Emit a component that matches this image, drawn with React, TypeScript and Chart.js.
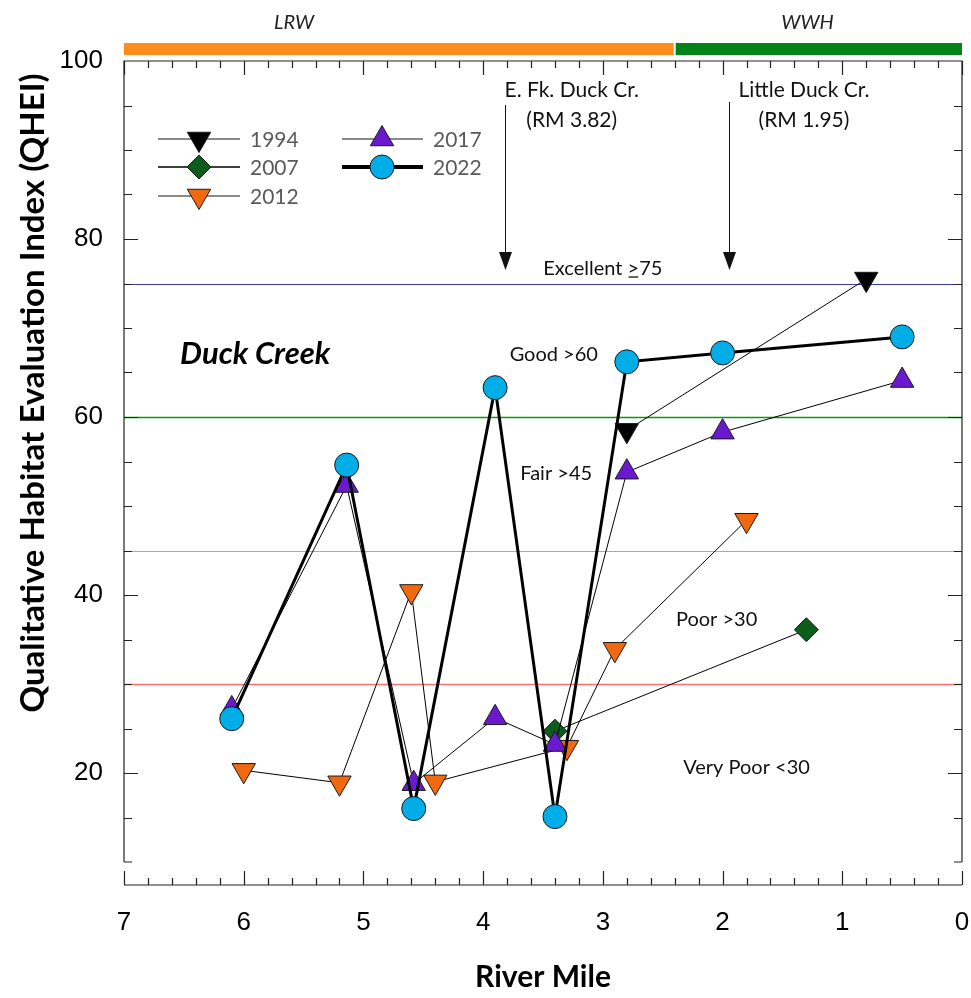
import React, { useEffect, useRef } from 'react';
import { Chart, registerables } from 'chart.js';
import { drawPoint } from 'chart.js/helpers';

Chart.register(...registerables);

// QHEI survey results for Duck Creek by river mile
const riverMile1994 = [2.8, 0.8];
const qhei1994 = [58.5, 75.5];

const riverMile2007 = [3.4, 1.3];
const qhei2007 = [24.7, 36.1];

const riverMile2012 = [6.0, 5.2, 4.6, 4.4, 3.3, 2.9, 1.8];
const qhei2012 = [20.3, 18.9, 40.4, 19.0, 22.9, 33.9, 48.4];

const riverMile2017 = [6.1, 5.14, 4.58, 3.9, 3.4, 2.8, 2.0, 0.5];
const qhei2017 = [27.2, 52.3, 18.8, 26.2, 23.2, 53.8, 58.3, 64.1];

const riverMile2022 = [6.1, 5.14, 4.58, 3.9, 3.4, 2.8, 2.0, 0.5];
const qhei2022 = [26.1, 54.6, 16.0, 63.3, 15.1, 66.2, 67.2, 69.0];

const surveyYears = ['1994', '2007', '2012', '2017', '2022'];

// Narrative rating thresholds
const bandThresholds = [75, 60, 45, 30];
const bandLabels = ['Excellent ', 'Good >60', 'Fair >45', 'Poor >30', 'Very Poor <30'];

// Tributary confluences
const tributaryNames = ['E. Fk. Duck Cr.', 'Little Duck Cr.'];
const tributaryMiles = [3.82, 1.95];

// Aquatic life use designations
const useDesignations = ['LRW', 'WWH'];
const useBreakMile = 2.4;

const FONT = 'Lato, "Open Sans", sans-serif';
const AXIS_FONT = '"Liberation Sans", Arial, sans-serif';

type MarkerStyle = {
  pointStyle: string;
  rotation: number;
  fill: string;
  radius: number;
  lineWidth: number;
  legendLine: string;
  legendWidth: number;
};

const markerStyles: MarkerStyle[] = [
  { pointStyle: 'triangle', rotation: 180, fill: '#000000', radius: 13.5, lineWidth: 1, legendLine: '#8a8a8a', legendWidth: 2 },
  { pointStyle: 'rectRot', rotation: 0, fill: '#0d5c1c', radius: 12, lineWidth: 1, legendLine: '#000000', legendWidth: 1.5 },
  { pointStyle: 'triangle', rotation: 180, fill: '#f0690f', radius: 13.5, lineWidth: 1, legendLine: '#8a8a8a', legendWidth: 2 },
  { pointStyle: 'triangle', rotation: 0, fill: '#6a19cf', radius: 13.5, lineWidth: 1, legendLine: '#8a8a8a', legendWidth: 2 },
  { pointStyle: 'circle', rotation: 0, fill: '#00ade6', radius: 12, lineWidth: 3, legendLine: '#000000', legendWidth: 4 },
];

const seriesMiles = [riverMile1994, riverMile2007, riverMile2012, riverMile2017, riverMile2022];
const seriesQhei = [qhei1994, qhei2007, qhei2012, qhei2017, qhei2022];

const bandLineColors = ['#3c3ca8', '#00a000', '#cfa080', '#ff6f6f'];
const bandLineWidths = [1, 1.4, 1.2, 1.5];

function drawMarker(ctx: CanvasRenderingContext2D, s: MarkerStyle, x: number, y: number) {
  ctx.save();
  ctx.fillStyle = s.fill;
  ctx.strokeStyle = '#1a1a1a';
  ctx.lineWidth = 1;
  drawPoint(ctx, { pointStyle: s.pointStyle as any, rotation: s.rotation, radius: s.radius, borderWidth: 1 }, x, y);
  ctx.restore();
}

const decorations = {
  id: 'decorations',
  beforeDatasetsDraw(chart: any) {
    const { ctx, chartArea: a, scales } = chart;
    const y = scales.y;
    ctx.save();
    bandThresholds.forEach((t, i) => {
      const py = Math.round(y.getPixelForValue(t)) + 0.5;
      ctx.strokeStyle = bandLineColors[i];
      ctx.lineWidth = bandLineWidths[i];
      ctx.beginPath();
      ctx.moveTo(a.left, py);
      ctx.lineTo(a.right, py);
      ctx.stroke();
    });

    // band labels
    ctx.fillStyle = '#111';
    ctx.font = `20px ${FONT}`;
    ctx.textAlign = 'center';
    ctx.textBaseline = 'middle';
    const x = scales.x;
    const bandPos = [
      [3.0, 76.7],
      [3.41, 67.0],
      [3.39, 53.7],
      [2.05, 37.2],
      [1.8, 20.6],
    ];
    bandPos.forEach(([m, v], i) => {
      const px = x.getPixelForValue(m);
      const py = y.getPixelForValue(v);
      if (i === 0) {
        // "Excellent ≥75" with an underlined greater-than sign
        const head = bandLabels[0];
        const sign = '>';
        const tail = '75';
        const w1 = ctx.measureText(head).width;
        const w2 = ctx.measureText(sign).width;
        const w3 = ctx.measureText(tail).width;
        const sx = px - (w1 + w2 + w3) / 2;
        ctx.textAlign = 'left';
        ctx.fillText(head, sx, py);
        ctx.fillText(sign, sx + w1, py);
        ctx.fillText(tail, sx + w1 + w2, py);
        ctx.fillRect(sx + w1 + 1, py + 8, w2 - 2, 1.3);
        ctx.textAlign = 'center';
      } else {
        ctx.fillText(bandLabels[i], px, py);
      }
    });
    ctx.restore();
  },
  afterDraw(chart: any) {
    const { ctx, chartArea: a, scales } = chart;
    const x = scales.x;
    const y = scales.y;
    ctx.save();

    // plot frame
    ctx.strokeStyle = '#222';
    ctx.lineWidth = 1.2;
    ctx.beginPath();
    ctx.moveTo(a.left, a.bottom);
    ctx.lineTo(a.left, a.top);
    ctx.lineTo(a.right, a.top);
    ctx.lineTo(a.right, a.bottom);
    ctx.moveTo(a.left, a.bottom);
    ctx.lineTo(a.left + 8, a.bottom);
    ctx.moveTo(a.right, a.bottom);
    ctx.lineTo(a.right - 8, a.bottom);
    ctx.stroke();

    // top ticks and offset bottom axis
    const axisY = a.bottom + 23;
    ctx.beginPath();
    ctx.moveTo(a.left, axisY);
    ctx.lineTo(a.right, axisY);
    for (let i = 0; i <= 35; i++) {
      const px = Math.round(x.getPixelForValue(i / 5)) + 0.5;
      const len = i % 5 === 0 ? 14 : 7;
      ctx.moveTo(px, a.top);
      ctx.lineTo(px, a.top + len);
      ctx.moveTo(px, axisY);
      ctx.lineTo(px, axisY - len);
    }
    // left and right ticks
    for (let v = 15; v <= 95; v += 5) {
      const py = Math.round(y.getPixelForValue(v)) + 0.5;
      const len = v % 20 === 0 ? 14 : 8;
      ctx.moveTo(a.left, py);
      ctx.lineTo(a.left + len, py);
      ctx.moveTo(a.right, py);
      ctx.lineTo(a.right - len, py);
    }
    ctx.stroke();

    // use designation bar
    const breakPx = x.getPixelForValue(useBreakMile);
    ctx.fillStyle = '#ff8c1e';
    ctx.fillRect(a.left, 43, breakPx - a.left - 1, 12);
    ctx.fillStyle = '#058318';
    ctx.fillRect(breakPx + 1, 43, a.right - breakPx - 1, 12);
    ctx.fillStyle = '#222';
    ctx.font = `italic 20px ${FONT}`;
    ctx.textAlign = 'center';
    ctx.textBaseline = 'middle';
    ctx.fillText(useDesignations[0], x.getPixelForValue(5.58), 23);
    ctx.fillText(useDesignations[1], x.getPixelForValue(1.29), 23);

    // tributary arrows
    ctx.font = `21px ${FONT}`;
    ctx.fillStyle = '#111';
    const tribLabelMiles = [3.26, 1.32];
    const tribLineTop = [105, 102];
    tributaryMiles.forEach((m, i) => {
      const px = Math.round(x.getPixelForValue(m)) + 0.5;
      const tipY = Math.round(y.getPixelForValue(76.5));
      const lx = x.getPixelForValue(tribLabelMiles[i]);
      ctx.fillText(tributaryNames[i], lx, 90);
      ctx.fillText(`(RM ${m.toFixed(2)})`, lx, 120);
      ctx.strokeStyle = '#111';
      ctx.lineWidth = 1;
      ctx.beginPath();
      ctx.moveTo(px, tribLineTop[i]);
      ctx.lineTo(px, tipY - 16);
      ctx.stroke();
      ctx.beginPath();
      ctx.moveTo(px - 6.5, tipY - 18);
      ctx.lineTo(px + 6.5, tipY - 18);
      ctx.lineTo(px, tipY);
      ctx.closePath();
      ctx.fill();
    });

    // stream name
    ctx.font = `italic bold 31px ${FONT}`;
    ctx.textAlign = 'left';
    ctx.fillStyle = '#000';
    ctx.fillText('Duck Creek', a.left + 56, y.getPixelForValue(67.1));

    // legend
    const rows = [139, 167, 196];
    const cols = [
      { l0: a.left + 34, l1: a.left + 116, m: a.left + 75, t: a.left + 126 },
      { l0: a.left + 218, l1: a.left + 299, m: a.left + 258, t: a.left + 309 },
    ];
    ctx.font = `21px ${FONT}`;
    ctx.textBaseline = 'middle';
    surveyYears.forEach((yr, i) => {
      const c = cols[i < 3 ? 0 : 1];
      const ry = rows[i < 3 ? i : i - 3];
      const s = markerStyles[i];
      ctx.strokeStyle = s.legendLine;
      ctx.lineWidth = s.legendWidth;
      ctx.beginPath();
      ctx.moveTo(c.l0, ry);
      ctx.lineTo(c.l1, ry);
      ctx.stroke();
      drawMarker(ctx, s, c.m, ry);
      ctx.fillStyle = '#5a5a5a';
      ctx.textAlign = 'left';
      ctx.fillText(yr, c.t, ry + 1);
    });

    // axis titles
    ctx.fillStyle = '#000';
    ctx.font = `bold 30px ${FONT}`;
    ctx.textAlign = 'center';
    ctx.fillText('River Mile', (a.left + a.right) / 2, 977);
    ctx.save();
    ctx.translate(33, 393);
    ctx.rotate(-Math.PI / 2);
    ctx.font = `bold 33px ${FONT}`;
    ctx.fillText('Qualitative Habitat Evaluation Index (QHEI)', 0, 0);
    ctx.restore();

    ctx.restore();
  },
};

export default function App() {
  const canvasRef = useRef<HTMLCanvasElement | null>(null);

  useEffect(() => {
    if (!canvasRef.current) return;
    const datasets = surveyYears.map((yr, i) => {
      const s = markerStyles[i];
      return {
        label: yr,
        data: seriesMiles[i].map((m, j) => ({ x: m, y: seriesQhei[i][j] })),
        showLine: true,
        borderColor: '#000000',
        borderWidth: s.lineWidth,
        tension: 0,
        pointStyle: s.pointStyle,
        rotation: s.rotation,
        pointRadius: s.radius,
        pointHoverRadius: s.radius,
        pointBackgroundColor: s.fill,
        pointBorderColor: '#1a1a1a',
        pointBorderWidth: 1,
        order: 5 - i,
      };
    });

    const chart = new Chart(canvasRef.current, {
      type: 'scatter',
      data: { datasets } as any,
      options: {
        animation: false,
        responsive: false,
        devicePixelRatio: 1,
        layout: { padding: { top: 61, right: 9, left: 0, bottom: 0 }, autoPadding: false },
        plugins: { legend: { display: false }, tooltip: { enabled: false } },
        scales: {
          x: {
            type: 'linear',
            reverse: true,
            min: 0,
            max: 7,
            grid: { display: false, drawTicks: true, tickLength: 45 },
            border: { display: false },
            ticks: {
              stepSize: 1,
              padding: 0,
              color: '#000',
              font: { family: AXIS_FONT, size: 26 },
            },
            afterFit: (scale: any) => {
              scale.height = 136;
              scale.paddingLeft = 0;
              scale.paddingRight = 0;
            },
          },
          y: {
            type: 'linear',
            min: 10,
            max: 100,
            grid: { display: false, drawTicks: true, tickLength: 21 },
            border: { display: false },
            ticks: {
              stepSize: 20,
              padding: 0,
              color: '#000',
              font: { family: AXIS_FONT, size: 26 },
            },
            afterBuildTicks: (scale: any) => {
              scale.ticks = scale.ticks.filter((t: any) => t.value % 20 === 0);
            },
            afterFit: (scale: any) => {
              scale.width = 124;
              scale.paddingTop = 0;
              scale.paddingBottom = 0;
            },
          },
        },
      } as any,
      plugins: [decorations],
    });
    return () => chart.destroy();
  }, []);

  return (
    <div style={{ position: 'absolute', left: 0, top: 0, width: 971, height: 998, background: '#fff' }}>
      <canvas ref={canvasRef} width={971} height={998} style={{ width: 971, height: 998 }} />
    </div>
  );
}
